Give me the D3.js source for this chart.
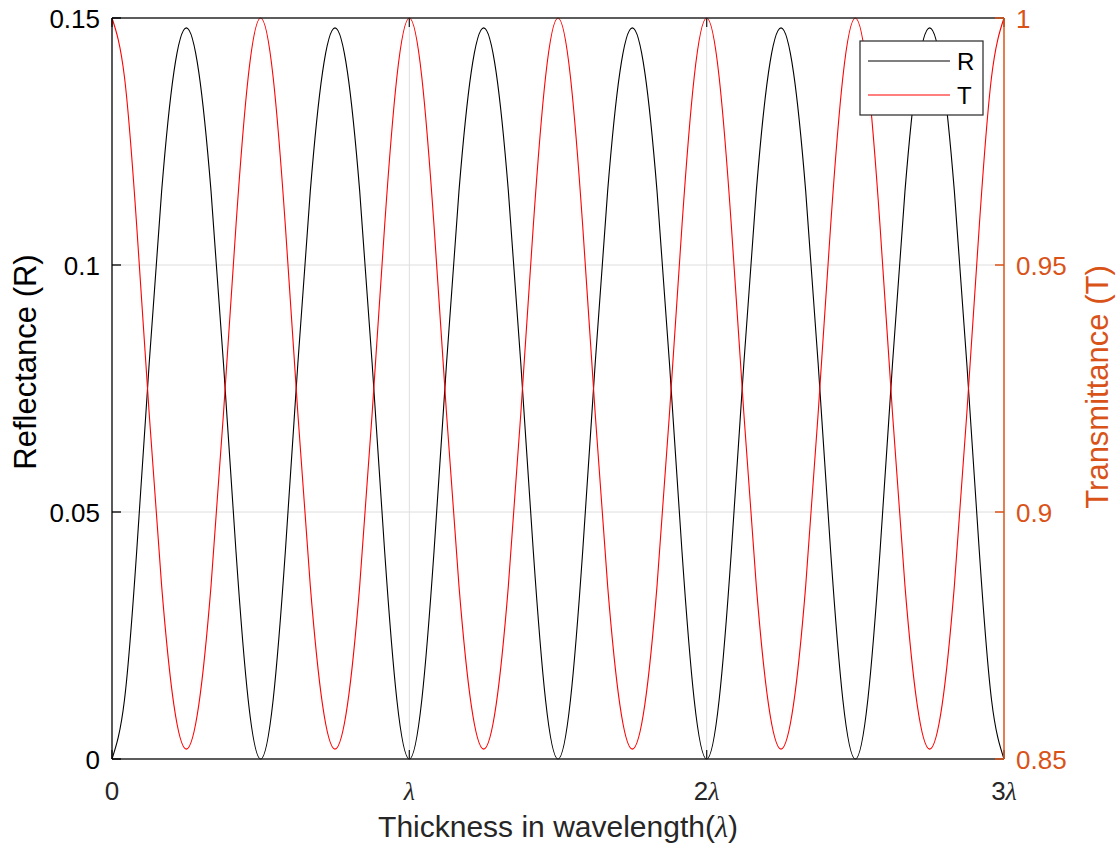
<!DOCTYPE html>
<html>
<head>
<meta charset="utf-8">
<script src="https://cdn.jsdelivr.net/npm/d3@7"></script>
<style>
  body { margin: 0; background: #fff; }
  text { font-family: "Liberation Sans", Arial, sans-serif; }
</style>
</head>
<body>
<div id="viz"></div>
<script>
// thickness in units of wavelength (lambda)
const thickness = [
  0, 0.042, 0.083, 0.125, 0.167, 0.208, 0.25, 0.292, 0.333, 0.375, 0.417, 0.458,
  0.5, 0.542, 0.583, 0.625, 0.667, 0.708, 0.75, 0.792, 0.833, 0.875, 0.917, 0.958,
  1, 1.042, 1.083, 1.125, 1.167, 1.208, 1.25, 1.292, 1.333, 1.375, 1.417, 1.458,
  1.5, 1.542, 1.583, 1.625, 1.667, 1.708, 1.75, 1.792, 1.833, 1.875, 1.917, 1.958,
  2, 2.042, 2.083, 2.125, 2.167, 2.208, 2.25, 2.292, 2.333, 2.375, 2.417, 2.458,
  2.5, 2.542, 2.583, 2.625, 2.667, 2.708, 2.75, 2.792, 2.833, 2.875, 2.917, 2.958,
  3
];

// reflectance
const reflectance = [
  0, 0.012, 0.042, 0.080, 0.115, 0.139, 0.148, 0.139, 0.115, 0.080, 0.042, 0.012,
  0, 0.012, 0.042, 0.080, 0.115, 0.139, 0.148, 0.139, 0.115, 0.080, 0.042, 0.012,
  0, 0.012, 0.042, 0.080, 0.115, 0.139, 0.148, 0.139, 0.115, 0.080, 0.042, 0.012,
  0, 0.012, 0.042, 0.080, 0.115, 0.139, 0.148, 0.139, 0.115, 0.080, 0.042, 0.012,
  0, 0.012, 0.042, 0.080, 0.115, 0.139, 0.148, 0.139, 0.115, 0.080, 0.042, 0.012,
  0, 0.012, 0.042, 0.080, 0.115, 0.139, 0.148, 0.139, 0.115, 0.080, 0.042, 0.012,
  0
];

// transmittance
const transmittance = [
  1, 0.988, 0.958, 0.920, 0.885, 0.861, 0.852, 0.861, 0.885, 0.920, 0.958, 0.988,
  1, 0.988, 0.958, 0.920, 0.885, 0.861, 0.852, 0.861, 0.885, 0.920, 0.958, 0.988,
  1, 0.988, 0.958, 0.920, 0.885, 0.861, 0.852, 0.861, 0.885, 0.920, 0.958, 0.988,
  1, 0.988, 0.958, 0.920, 0.885, 0.861, 0.852, 0.861, 0.885, 0.920, 0.958, 0.988,
  1, 0.988, 0.958, 0.920, 0.885, 0.861, 0.852, 0.861, 0.885, 0.920, 0.958, 0.988,
  1, 0.988, 0.958, 0.920, 0.885, 0.861, 0.852, 0.861, 0.885, 0.920, 0.958, 0.988,
  1
];

const xTicks = [0, 1, 2, 3];
const xTickLabels = ["0", "λ", "2λ", "3λ"];
const leftTicks = [0, 0.05, 0.1, 0.15];
const leftTickLabels = ["0", "0.05", "0.1", "0.15"];
const rightTicks = [0.85, 0.9, 0.95, 1];
const rightTickLabels = ["0.85", "0.9", "0.95", "1"];

const width = 1117, height = 852;
const plot = { left: 112, right: 1004, top: 18, bottom: 759 };
const orange = "#D95319";
const dark = "#262626";

const x = d3.scaleLinear().domain([0, 3]).range([plot.left, plot.right]);
const yL = d3.scaleLinear().domain([0, 0.15]).range([plot.bottom, plot.top]);
const yR = d3.scaleLinear().domain([0.85, 1]).range([plot.bottom, plot.top]);

const svg = d3.select("#viz")
              .append("svg")
              .attr("width", width)
              .attr("height", height);

// grid
svg.append("g")
    .selectAll("line.gy")
    .data([0.05, 0.1])
    .enter()
    .append("line")
    .attr("x1", plot.left).attr("x2", plot.right)
    .attr("y1", d => yL(d)).attr("y2", d => yL(d))
    .attr("stroke", "#dedede").attr("stroke-width", 1);

svg.append("g")
    .selectAll("line.gx")
    .data([1, 2])
    .enter()
    .append("line")
    .attr("x1", d => x(d)).attr("x2", d => x(d))
    .attr("y1", plot.top).attr("y2", plot.bottom)
    .attr("stroke", "#dedede").attr("stroke-width", 1);

// curves
svg.append("clipPath").attr("id", "clip")
    .append("rect")
    .attr("x", plot.left - 1).attr("y", plot.top - 1)
    .attr("width", plot.right - plot.left + 2).attr("height", plot.bottom - plot.top + 2);

const lineR = d3.line()
    .x((d, i) => x(thickness[i]))
    .y(d => yL(d))
    .curve(d3.curveNatural);

const lineT = d3.line()
    .x((d, i) => x(thickness[i]))
    .y(d => yR(d))
    .curve(d3.curveNatural);

const curves = svg.append("g").attr("clip-path", "url(#clip)");

curves.append("path")
    .attr("d", lineR(reflectance))
    .attr("fill", "none")
    .attr("stroke", "#000")
    .attr("stroke-width", 1.1);

curves.append("path")
    .attr("d", lineT(transmittance))
    .attr("fill", "none")
    .attr("stroke", "#ff0000")
    .attr("stroke-width", 1.1);

// box: top and bottom
svg.append("line")
    .attr("x1", plot.left).attr("x2", plot.right)
    .attr("y1", plot.top).attr("y2", plot.top)
    .attr("stroke", dark).attr("stroke-width", 1.3);
svg.append("line")
    .attr("x1", plot.left).attr("x2", plot.right)
    .attr("y1", plot.bottom).attr("y2", plot.bottom)
    .attr("stroke", dark).attr("stroke-width", 1.3);

// x ticks (inward, bottom and top)
const tickLen = 9;
xTicks.forEach((t, i) => {
    svg.append("line")
        .attr("x1", x(t)).attr("x2", x(t))
        .attr("y1", plot.bottom).attr("y2", plot.bottom - tickLen)
        .attr("stroke", dark).attr("stroke-width", 1.3);
    svg.append("line")
        .attr("x1", x(t)).attr("x2", x(t))
        .attr("y1", plot.top).attr("y2", plot.top + tickLen)
        .attr("stroke", dark).attr("stroke-width", 1.3);

    const label = svg.append("text")
        .attr("x", x(t))
        .attr("y", 800)
        .attr("text-anchor", "middle")
        .attr("font-size", 26)
        .attr("fill", dark);
    const s = xTickLabels[i];
    if (s.indexOf("λ") >= 0) {
        const pre = s.replace("λ", "");
        if (pre) label.append("tspan").text(pre);
        label.append("tspan")
            .attr("font-family", "'Liberation Serif', serif")
            .attr("font-style", "italic")
            .text("λ");
    } else {
        label.text(s);
    }
});

// left axis
svg.append("line")
    .attr("x1", plot.left).attr("x2", plot.left)
    .attr("y1", plot.top).attr("y2", plot.bottom)
    .attr("stroke", "#000").attr("stroke-width", 1.3);

leftTicks.forEach((t, i) => {
    svg.append("line")
        .attr("x1", plot.left).attr("x2", plot.left + tickLen)
        .attr("y1", yL(t)).attr("y2", yL(t))
        .attr("stroke", "#000").attr("stroke-width", 1.3);
    svg.append("text")
        .attr("x", plot.left - 12)
        .attr("y", yL(t) + 9.5)
        .attr("text-anchor", "end")
        .attr("font-size", 26)
        .attr("fill", "#000")
        .text(leftTickLabels[i]);
});

// right axis
svg.append("line")
    .attr("x1", plot.right).attr("x2", plot.right)
    .attr("y1", plot.top).attr("y2", plot.bottom)
    .attr("stroke", orange).attr("stroke-width", 1.5);

rightTicks.forEach((t, i) => {
    svg.append("line")
        .attr("x1", plot.right).attr("x2", plot.right - tickLen)
        .attr("y1", yR(t)).attr("y2", yR(t))
        .attr("stroke", orange).attr("stroke-width", 1.5);
    svg.append("text")
        .attr("x", plot.right + 12)
        .attr("y", yR(t) + 9.5)
        .attr("text-anchor", "start")
        .attr("font-size", 26)
        .attr("fill", orange)
        .text(rightTickLabels[i]);
});

// axis labels
svg.append("text")
    .attr("transform", "translate(36,362) rotate(-90)")
    .attr("text-anchor", "middle")
    .attr("font-size", 31)
    .attr("fill", "#000")
    .text("Reflectance (R)");

svg.append("text")
    .attr("transform", "translate(1108,387) rotate(-90)")
    .attr("text-anchor", "middle")
    .attr("font-size", 31)
    .attr("fill", orange)
    .text("Transmittance (T)");

const xLabel = svg.append("text")
    .attr("x", 558)
    .attr("y", 837)
    .attr("text-anchor", "middle")
    .attr("font-size", 30)
    .attr("fill", dark);
xLabel.append("tspan").text("Thickness in wavelength(");
xLabel.append("tspan")
    .attr("font-family", "'Liberation Serif', serif")
    .attr("font-style", "italic")
    .text("λ");
xLabel.append("tspan").text(")");

// legend
const legend = svg.append("g");
legend.append("rect")
    .attr("x", 860).attr("y", 41)
    .attr("width", 123).attr("height", 74)
    .attr("fill", "#fff")
    .attr("stroke", dark).attr("stroke-width", 1.2);

const legendItems = [
    { name: "R", color: "#000" },
    { name: "T", color: "#ff0000" }
];

legend.selectAll("line")
    .data(legendItems)
    .enter()
    .append("line")
    .attr("x1", 868).attr("x2", 950)
    .attr("y1", (d, i) => 61 + i * 34).attr("y2", (d, i) => 61 + i * 34)
    .attr("stroke", d => d.color).attr("stroke-width", 1.1);

legend.selectAll("text")
    .data(legendItems)
    .enter()
    .append("text")
    .attr("x", 957)
    .attr("y", (d, i) => 70 + i * 34)
    .attr("font-size", 24)
    .attr("fill", "#000")
    .text(d => d.name);
</script>
</body>
</html>
